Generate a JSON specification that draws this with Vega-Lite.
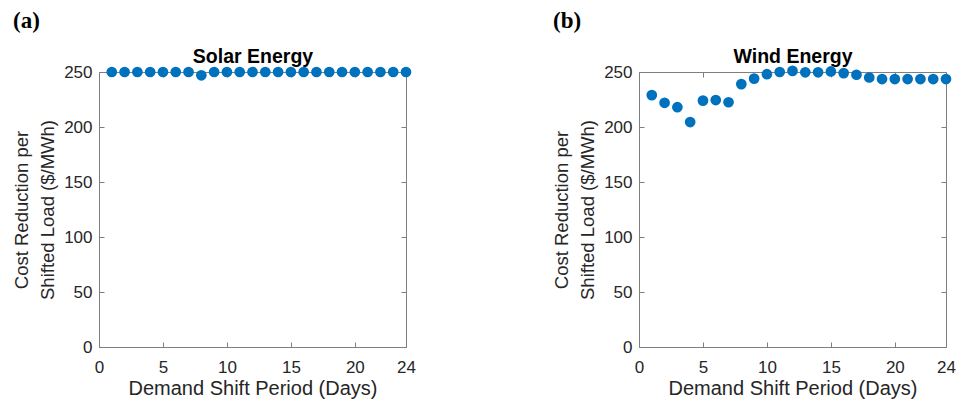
{
  "$schema": "https://vega.github.io/schema/vega-lite/v6.json",
  "background": "white",
  "padding": {"left": 12, "top": 9, "right": 5, "bottom": 2},
  "spacing": 136,
  "datasets": {
    "solar": [
      {"day": 1, "value": 250}, {"day": 2, "value": 250}, {"day": 3, "value": 250}, {"day": 4, "value": 250},
      {"day": 5, "value": 250}, {"day": 6, "value": 250}, {"day": 7, "value": 250}, {"day": 8, "value": 247},
      {"day": 9, "value": 250}, {"day": 10, "value": 250}, {"day": 11, "value": 250}, {"day": 12, "value": 250},
      {"day": 13, "value": 250}, {"day": 14, "value": 250}, {"day": 15, "value": 250}, {"day": 16, "value": 250},
      {"day": 17, "value": 250}, {"day": 18, "value": 250}, {"day": 19, "value": 250}, {"day": 20, "value": 250},
      {"day": 21, "value": 250}, {"day": 22, "value": 250}, {"day": 23, "value": 250}, {"day": 24, "value": 250}
    ],
    "wind": [
      {"day": 1, "value": 229}, {"day": 2, "value": 222}, {"day": 3, "value": 218}, {"day": 4, "value": 204.5},
      {"day": 5, "value": 224}, {"day": 6, "value": 224.5}, {"day": 7, "value": 222.5}, {"day": 8, "value": 239},
      {"day": 9, "value": 244}, {"day": 10, "value": 248}, {"day": 11, "value": 250}, {"day": 12, "value": 251},
      {"day": 13, "value": 249.7}, {"day": 14, "value": 249.7}, {"day": 15, "value": 250.5}, {"day": 16, "value": 249},
      {"day": 17, "value": 247.5}, {"day": 18, "value": 245}, {"day": 19, "value": 243.6}, {"day": 20, "value": 243.6},
      {"day": 21, "value": 243.6}, {"day": 22, "value": 243.6}, {"day": 23, "value": 243.6}, {"day": 24, "value": 243.6}
    ]
  },
  "config": {
    "view": {"stroke": null},
    "font": "Liberation Sans",
    "axis": {
      "domainColor": "#7f7f7f",
      "tickColor": "#7f7f7f",
      "labelColor": "#262626",
      "titleColor": "#262626",
      "labelFont": "Liberation Sans",
      "titleFont": "Liberation Sans",
      "labelFontSize": 17,
      "titleFontSize": 18.5,
      "titleFontWeight": "normal",
      "tickSize": -5,
      "grid": false,
      "labelFlush": false
    },
    "axisX": {"labelPadding": 17, "titleFontSize": 20, "titlePadding": 3},
    "axisY": {"labelPadding": 12, "titlePadding": 6, "titleLineHeight": 26},
    "title": {
      "font": "Liberation Serif",
      "fontWeight": "bold",
      "fontSize": 23,
      "color": "black",
      "anchor": "start",
      "frame": "group",
      "offset": 14
    }
  },
  "hconcat": [
    {
      "width": 307,
      "height": 275,
      "title": {"text": "(a)", "dx": -86},
      "data": {"name": "solar"},
      "layer": [
        {
          "mark": {"type": "point", "filled": true, "size": 115, "color": "#0072BD", "opacity": 1},
          "encoding": {
            "x": {"field": "day", "type": "quantitative",
                  "scale": {"domain": [0, 24], "nice": false},
                  "axis": {"values": [0, 5, 10, 15, 20, 24], "title": "Demand Shift Period (Days)"}},
            "y": {"field": "value", "type": "quantitative",
                  "scale": {"domain": [0, 250], "nice": false},
                  "axis": {"values": [0, 50, 100, 150, 200, 250], "title": ["Cost Reduction per", "Shifted Load ($/MWh)"]}}
          }
        },
        {
          "mark": {"type": "point", "opacity": 0},
          "encoding": {
            "x": {"field": "day", "type": "quantitative",
                  "axis": {"orient": "top", "values": [0, 5, 10, 15, 20, 24], "labels": false, "title": "Solar Energy", "titleFontWeight": "bold", "titleColor": "black", "titleFontSize": 19.5, "titlePadding": 5}},
            "y": {"field": "value", "type": "quantitative",
                  "axis": {"orient": "right", "values": [0, 50, 100, 150, 200, 250], "labels": false, "title": null}}
          }
        }
      ],
      "resolve": {"axis": {"x": "independent", "y": "independent"}}
    },
    {
      "width": 307,
      "height": 275,
      "title": {"text": "(b)", "dx": -86},
      "data": {"name": "wind"},
      "layer": [
        {
          "mark": {"type": "point", "filled": true, "size": 115, "color": "#0072BD", "opacity": 1},
          "encoding": {
            "x": {"field": "day", "type": "quantitative",
                  "scale": {"domain": [0, 24], "nice": false},
                  "axis": {"values": [0, 5, 10, 15, 20, 24], "title": "Demand Shift Period (Days)"}},
            "y": {"field": "value", "type": "quantitative",
                  "scale": {"domain": [0, 250], "nice": false},
                  "axis": {"values": [0, 50, 100, 150, 200, 250], "title": ["Cost Reduction per", "Shifted Load ($/MWh)"]}}
          }
        },
        {
          "mark": {"type": "point", "opacity": 0},
          "encoding": {
            "x": {"field": "day", "type": "quantitative",
                  "axis": {"orient": "top", "values": [0, 5, 10, 15, 20, 24], "labels": false, "title": "Wind Energy", "titleFontWeight": "bold", "titleColor": "black", "titleFontSize": 19.5, "titlePadding": 5}},
            "y": {"field": "value", "type": "quantitative",
                  "axis": {"orient": "right", "values": [0, 50, 100, 150, 200, 250], "labels": false, "title": null}}
          }
        }
      ],
      "resolve": {"axis": {"x": "independent", "y": "independent"}}
    }
  ]
}
